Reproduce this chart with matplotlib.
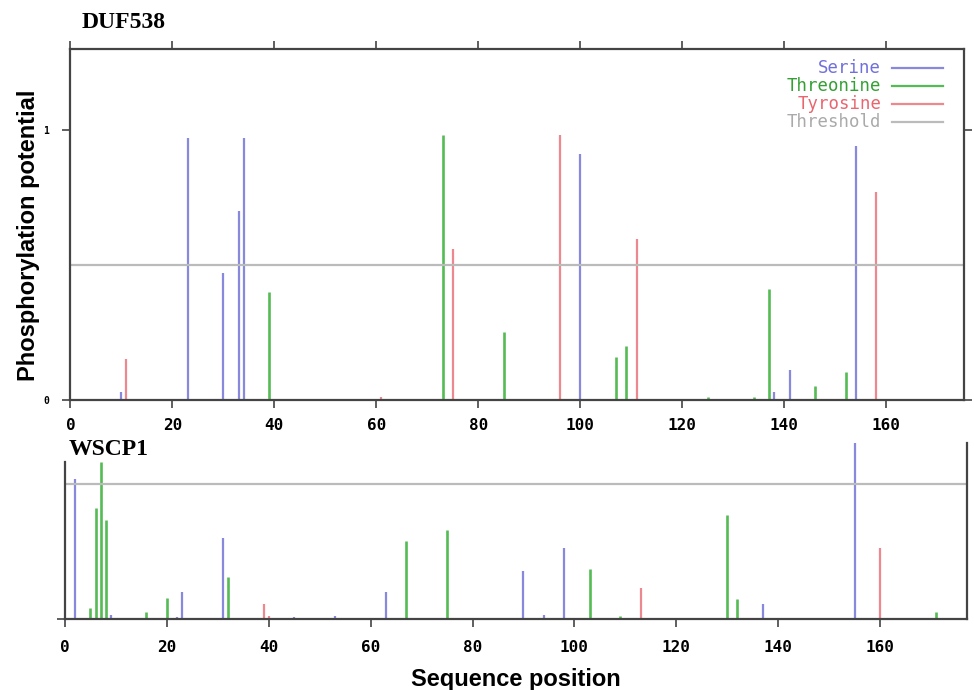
import matplotlib.pyplot as plt

# DUF538 (top panel)
duf_ser_pos = [10, 23, 30, 33, 34, 100, 138, 141, 154]
duf_ser_val = [0.03, 0.97, 0.47, 0.70, 0.97, 0.91, 0.03, 0.11, 0.94]
duf_thr_pos = [39, 73, 85, 107, 109, 125, 134, 137, 146, 152]
duf_thr_val = [0.40, 0.98, 0.25, 0.16, 0.20, 0.012, 0.012, 0.41, 0.05, 0.105]
duf_tyr_pos = [11, 61, 75, 96, 111, 158]
duf_tyr_val = [0.15, 0.012, 0.56, 0.98, 0.595, 0.77]

# WSCP1 (bottom panel)
wscp_ser_pos = [2, 9, 22, 23, 31, 45, 53, 63, 90, 94, 98, 137, 150, 155]
wscp_ser_val = [0.52, 0.016, 0.008, 0.10, 0.30, 0.01, 0.013, 0.10, 0.18, 0.016, 0.265, 0.057, 0.005, 0.66]
wscp_thr_pos = [5, 6, 7, 8, 16, 20, 32, 67, 75, 103, 109, 130, 132, 171]
wscp_thr_val = [0.043, 0.413, 0.583, 0.368, 0.027, 0.08, 0.155, 0.29, 0.33, 0.185, 0.012, 0.386, 0.074, 0.026]
wscp_tyr_pos = [39, 40, 113, 160]
wscp_tyr_val = [0.057, 0.012, 0.117, 0.265]

threshold = 0.5
xticks = [0, 20, 40, 60, 80, 100, 120, 140, 160]

c_ser = "#8888dd"
c_thr = "#55bb55"
c_tyr = "#ee8890"
c_thres = "#bbbbbb"
c_axis = "#444444"

mono = "DejaVu Sans Mono"

fig = plt.figure(figsize=(9.74, 6.90), dpi=100)

# ---------- top panel ----------
ax1 = fig.add_axes([0.0722, 0.4203, 0.9175, 0.5087])
ax1.vlines(duf_ser_pos, 0, duf_ser_val, color=c_ser, lw=1.6)
ax1.vlines(duf_thr_pos, 0, duf_thr_val, color=c_thr, lw=1.9)
ax1.vlines(duf_tyr_pos, 0, duf_tyr_val, color=c_tyr, lw=1.6)
ax1.axhline(threshold, color=c_thres, lw=1.6)
ax1.set_xlim(0, 175.2)
ax1.set_ylim(0, 1.3)
ax1.set_xticks(xticks)
ax1.set_yticks([0, 1])
ax1.set_yticklabels(["0", "1"], family=mono, fontsize=7, fontweight="bold")
ax1.set_xticklabels([str(t) for t in xticks], family=mono, fontsize=11.5,
                    fontweight="bold")
ax1.tick_params(axis="x", top=True, direction="out", length=6, width=1.2,
                color=c_axis, pad=7)
ax1.tick_params(axis="y", right=True, direction="out", length=6, width=1.2,
                color=c_axis, pad=9)
for s in ax1.spines.values():
    s.set_color(c_axis)
    s.set_linewidth(1.6)

# legend drawn as coloured text + line, like the original applet
leg_items = [("Serine", c_ser, "#7070dd"), ("Threonine", c_thr, "#33a033"),
             ("Tyrosine", c_tyr, "#e86670"), ("Threshold", c_thres, "#aaaaaa")]
for i, (name, lc, tc) in enumerate(leg_items):
    y = 0.946 - i * 0.0515
    ax1.text(0.9075, y, name, transform=ax1.transAxes, ha="right", va="center",
             family=mono, fontsize=12.5, color=tc)
    ax1.plot([0.920, 0.976], [y, y], transform=ax1.transAxes, color=lc, lw=1.6)

ax1.set_ylabel("Phosphorylation potential", fontsize=17, fontweight="bold",
               family="Liberation Sans")
ax1.yaxis.set_label_coords(-0.034, 0.47)
fig.text(0.084, 0.967, "DUF538", family="Liberation Serif", fontweight="bold",
         fontsize=17, va="center", ha="left")

# ---------- bottom panel ----------
ax2 = fig.add_axes([0.0667, 0.1025, 0.9258, 0.2555])
ax2.vlines(wscp_ser_pos, 0, wscp_ser_val, color=c_ser, lw=1.6)
ax2.vlines(wscp_thr_pos, 0, wscp_thr_val, color=c_thr, lw=1.9)
ax2.vlines(wscp_tyr_pos, 0, wscp_tyr_val, color=c_tyr, lw=1.6)
ax2.axhline(threshold, color=c_thres, lw=1.6)
ax2.set_xlim(0, 177.0)
ax2.set_ylim(0, 0.653)
ax2.set_xticks(xticks)
ax2.set_xticklabels([str(t) for t in xticks], family=mono, fontsize=11.5,
                    fontweight="bold")
ax2.set_yticks([0])
ax2.set_yticklabels([""])
ax2.tick_params(axis="x", direction="out", length=6, width=1.2, color=c_axis, pad=9)
ax2.tick_params(axis="y", direction="out", length=6, width=1.2, color=c_axis)
ax2.spines["top"].set_visible(False)
ax2.spines["left"].set_bounds(0, 0.583)
for s in ax2.spines.values():
    s.set_color(c_axis)
    s.set_linewidth(1.6)
ax2.set_xlabel("Sequence position", fontsize=17, fontweight="bold",
               family="Liberation Sans", labelpad=9)
fig.text(0.071, 0.349, "WSCP1", family="Liberation Serif", fontweight="bold",
         fontsize=17, va="center", ha="left")

fig.savefig("out.png", dpi=100)
